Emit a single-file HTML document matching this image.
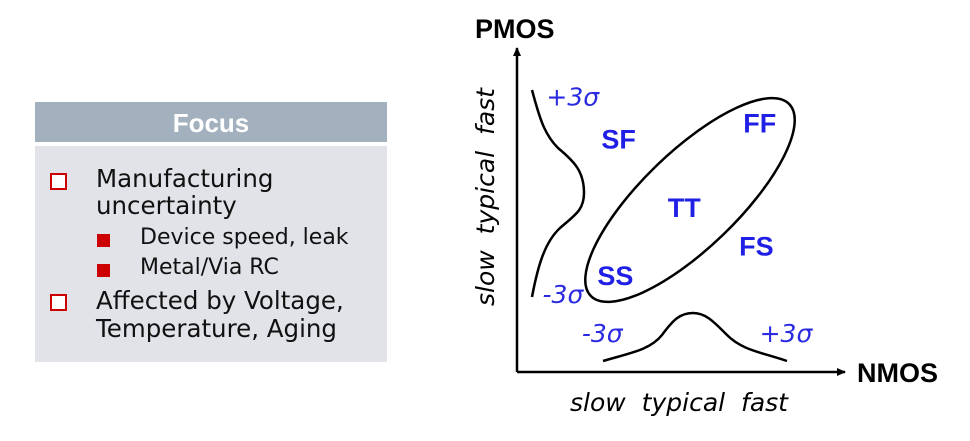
<!DOCTYPE html>
<html><head><meta charset="utf-8"><style>
html,body{margin:0;padding:0;background:#fff;width:970px;height:441px;overflow:hidden;font-family:"Liberation Sans","DejaVu Sans",sans-serif;}
.panel{position:absolute;left:35px;top:102px;width:352px;}
.hdr{height:40px;background:#a3b1bf;color:#fff;font-weight:bold;font-size:26px;text-align:center;line-height:42px;}
.body{position:absolute;top:44px;left:0;width:352px;height:216px;background:#e1e3e8;}
.t{position:absolute;color:#111;white-space:nowrap;}
.big{font-size:24.5px;font-family:"DejaVu Sans","Liberation Sans",sans-serif;}
.small{font-size:22px;font-family:"DejaVu Sans","Liberation Sans",sans-serif;}
.hs{position:absolute;width:13px;height:13px;border:2px solid #cc0000;background:#fff;}
.fs{position:absolute;width:13px;height:13px;background:#cc0000;}
svg{position:absolute;left:0;top:0}
</style></head><body>
<div class="panel">
 <div class="hdr">Focus</div>
 <div class="body">
  <div class="hs" style="left:15px;top:27px"></div>
  <div class="t big" style="left:61px;top:19px;line-height:27px">Manufacturing<br>uncertainty</div>
  <div class="fs" style="left:62px;top:88px"></div>
  <div class="t small" style="left:105px;top:79px">Device speed, leak</div>
  <div class="fs" style="left:62px;top:118px"></div>
  <div class="t small" style="left:105px;top:109px">Metal/Via RC</div>
  <div class="hs" style="left:15px;top:148px"></div>
  <div class="t big" style="left:61px;top:141px;line-height:28px">Affected by Voltage,<br>Temperature, Aging</div>
 </div>
</div>
<svg id="chart" width="970" height="441">
 <defs><marker id="ar" markerWidth="10" markerHeight="10" refX="8" refY="5" orient="auto" markerUnits="userSpaceOnUse"><path d="M0,1 L9,5 L0,9 Z" fill="#000"/></marker></defs>
 <line x1="517" y1="372" x2="517" y2="48" stroke="#000" stroke-width="2.5" marker-end="url(#ar)"/>
 <line x1="517" y1="372" x2="845" y2="372" stroke="#000" stroke-width="2.5" marker-end="url(#ar)"/>
 <text x="475" y="38" font-size="27" font-weight="bold" font-family="Liberation Sans, sans-serif">PMOS</text>
 <text x="857" y="382" font-size="27" font-weight="bold" font-family="Liberation Sans, sans-serif">NMOS</text>
 <text x="570" y="411" font-size="25" font-style="italic" font-family="DejaVu Sans, sans-serif" word-spacing="8">slow  typical  fast</text>
 <text transform="translate(494,306) rotate(-90)" font-size="25" font-style="italic" font-family="DejaVu Sans, sans-serif" word-spacing="8">slow  typical  fast</text>
 <path d="M532,90 C540,120 545,135 558,148 C575,162 584,172 584,193 C584,210 575,215 560,228 C545,242 538,265 532,297" fill="none" stroke="#000" stroke-width="2.5"/>
 <path d="M603,361 C630,353 650,350 662,335 C673,320 680,313 693,313 C706,313 714,322 727,335 C742,350 760,352 787,361" fill="none" stroke="#000" stroke-width="2.5"/>
 <ellipse cx="690" cy="200" rx="138" ry="48" transform="rotate(-44 690 200)" fill="none" stroke="#000" stroke-width="2.5"/>
 <g id="labels"></g>
</svg>
<script>
const cornerNames = ["SF","FF","TT","FS","SS"];
const cornerX = [0.31, 0.74, 0.51, 0.73, 0.30];
const cornerY = [0.72, 0.77, 0.51, 0.39, 0.30];
const sigmaText = ["+3σ","-3σ","-3σ","+3σ"];
const sigmaX = [0.17, 0.14, 0.26, 0.82];
const sigmaY = [0.85, 0.24, 0.12, 0.12];
const x0=517, x1=845, y0=372, y1=48;
function sx(v){return x0+(x1-x0)*v;}
function sy(v){return y0-(y0-y1)*v;}
const g=document.getElementById('labels');
const NS='http://www.w3.org/2000/svg';
cornerNames.forEach((n,i)=>{
 const t=document.createElementNS(NS,'text');
 t.setAttribute('x',sx(cornerX[i]));t.setAttribute('y',sy(cornerY[i])+10);
 t.setAttribute('text-anchor','middle');t.setAttribute('font-size','27');t.setAttribute('font-weight','bold');
 t.setAttribute('fill','#1f1fe6');t.setAttribute('font-family','Liberation Sans, sans-serif');
 t.textContent=n;
 
 
 g.appendChild(t);
});
sigmaText.forEach((s,i)=>{
 const t=document.createElementNS(NS,'text');
 t.setAttribute('x',sx(sigmaX[i]));t.setAttribute('y',sy(sigmaY[i])+9);
 t.setAttribute('text-anchor','middle');t.setAttribute('font-size','25');t.setAttribute('font-style','italic');
 t.setAttribute('fill','#2a2ae0');t.setAttribute('font-family','DejaVu Sans, sans-serif');
 t.textContent=s;
 
 
 g.appendChild(t);
});
</script>
</body></html>
